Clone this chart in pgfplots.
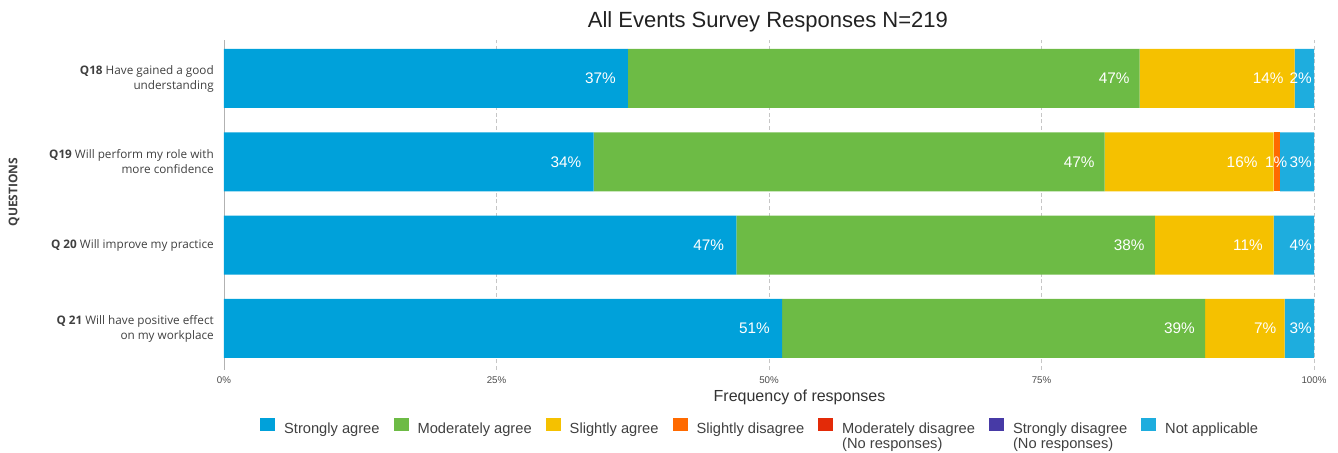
\documentclass[border=0pt]{standalone}
\usepackage{pgfplots}
\pgfplotsset{compat=1.18}
\usepackage{fontspec}
\setmainfont{Liberation Sans}
\newfontfamily\osans{Open Sans}
\definecolor{cSA}{HTML}{00A1DA}
\definecolor{cMA}{HTML}{6DBB45}
\definecolor{cSL}{HTML}{F5C100}
\definecolor{cSD}{HTML}{FF6A00}
\definecolor{cMD}{HTML}{E32A08}
\definecolor{cST}{HTML}{473AA6}
\definecolor{cNA}{HTML}{1EADDE}
\protected\def\padA{\kern4pt}
\protected\def\padB{\kern-2pt}
\begin{document}
\begin{tikzpicture}
\begin{axis}[
  name=ax, scale only axis, width=817.5pt, height=247.5pt,
  xbar stacked, bar width=44.25pt,
  xmin=0, xmax=100, ymin=-0.498, ymax=3.462,
  xtick={0,25,50,75,100}, xticklabels={0\%,25\%,50\%,75\%,100\%},
  ytick={0,1,2,3},
  yticklabels={{\textbf{Q 21} Will have positive effect\\on my workplace},{\textbf{Q 20} Will improve my practice},{\textbf{Q19} Will perform my role with\\more confidence},{\textbf{Q18} Have gained a good\\understanding}},
  yticklabel style={align=right, font=\osans\fontsize{8.8}{11.25}\selectfont, text=black!75, inner sep=0pt, xshift=-7.5pt},
  xticklabel style={font=\fontsize{7.3}{8}\selectfont, text=black!70, inner sep=0pt, yshift=-4.5pt},
  /pgf/number format/assume math mode=true,
  major tick length=0pt,
  axis lines*=left,
  x axis line style={draw=none},
  y axis line style={draw=gray!60, line width=0.6pt},
  xmajorgrids, grid style={densely dashed, gray!45, line width=0.4pt},
  title={All Events Survey Responses N=219},
  title style={at={(axis description cs:0.499,1)}, anchor=base, yshift=3pt, font=\fontsize{16.5}{19}\selectfont, text=black!87},
  xlabel={Frequency of responses},
  xlabel style={at={(axis description cs:0.528,-0.0818)}, anchor=center, font=\fontsize{12}{13}\selectfont, text=black!80},
  ylabel={QUESTIONS},
  ylabel style={at={(axis description cs:-0.1927,0.539)}, anchor=center, font=\osans\bfseries\fontsize{9}{11}\selectfont, text=black!75},
  point meta=explicit symbolic,
  visualization depends on=rawx \as \rawx,
  nodes near coords={\pgfplotspointmeta},
  every node near coord/.append style={font=\fontsize{11.5}{13}\selectfont, text=white, anchor=east, inner sep=0pt},
  legend columns=7,
  legend cell align=left,
  legend style={at={(0.491,-0.145)}, anchor=north, draw=none, fill=none, inner sep=0pt,
    font=\fontsize{11}{11.25}\selectfont, text=black!75,
    nodes={inner sep=0pt},
    /tikz/every even column/.append style={column sep=10.5pt},
    /tikz/every odd column/.append style={column sep=6.75pt}},
  legend image code/.code={\fill[#1] (0pt,-1.5pt) rectangle (11.25pt,8.25pt);},
]
\addplot[fill=cSA, draw=none, every node near coord/.append style={xshift={\rawx*4.0875pt-9pt}}]
  coordinates {(51.2,0) [51\%] (47.0,1) [47\%] (33.9,2) [34\%] (37.06,3) [37\%]};
\addlegendentry{Strongly agree}
\addplot[fill=cMA, draw=none, every node near coord/.append style={xshift={\rawx*4.0875pt-7.5pt}}]
  coordinates {(38.8,0) [39\%] (38.4,1) [38\%] (46.9,2) [47\%] (46.95,3) [47\%]};
\addlegendentry{Moderately agree}
\addplot[fill=cSL, draw=none, every node near coord/.append style={xshift={\rawx*4.0875pt-8pt}}]
  coordinates {(7.3,0) [7\%\padB] (10.9,1) [11\%] (15.5,2) [16\%\padA] (14.2,3) [14\%]};
\addlegendentry{Slightly agree}
\addplot[fill=cSD, draw=none, every node near coord/.append style={anchor=center, xshift=-0.5pt}]
  coordinates {(0,0) [{}] (0,1) [{}] (0.6,2) [1\%] (0,3) [{}]};
\addlegendentry{Slightly disagree}
\addlegendimage{fill=cMD, draw=none}
\addlegendentry{\begin{tabular}[t]{@{}l@{}}Moderately disagree\\(No responses)\end{tabular}}
\addlegendimage{fill=cST, draw=none}
\addlegendentry{\begin{tabular}[t]{@{}l@{}}Strongly disagree\\(No responses)\end{tabular}}
\addplot[fill=cNA, draw=none, every node near coord/.append style={xshift={\rawx*4.0875pt-1.5pt}}]
  coordinates {(2.7,0) [3\%] (3.7,1) [4\%] (3.1,2) [3\%] (1.79,3) [2\%]};
\addlegendentry{Not applicable}
\end{axis}
\pgfresetboundingbox
\path ([shift={(-168pt,-62.25pt)}]ax.south west) rectangle ([shift={(18pt,30pt)}]ax.north east);
\end{tikzpicture}
\end{document}
